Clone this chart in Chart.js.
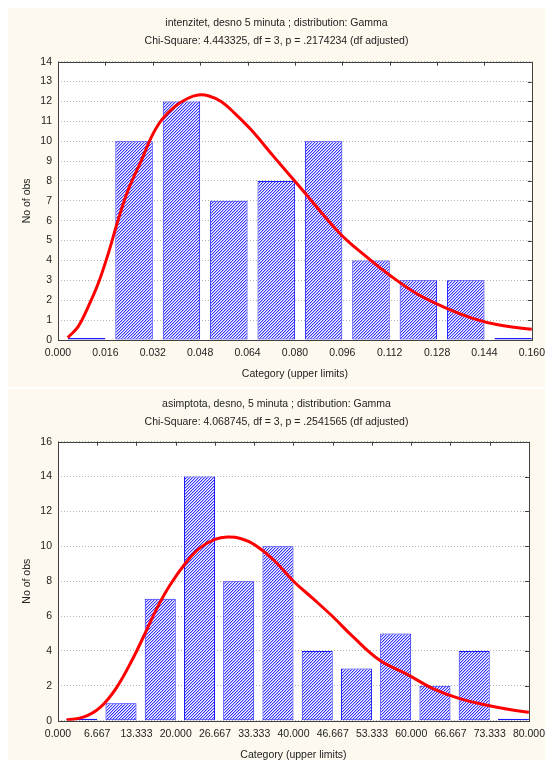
<!DOCTYPE html>
<html>
<head>
<meta charset="utf-8">
<script src="https://cdn.jsdelivr.net/npm/chart.js@4/dist/chart.umd.min.js"></script>
<style>
  body { margin: 0; background: #fff; width: 545px; height: 762px; position: relative; overflow: hidden; }
  .panel { position: absolute; left: 8px; width: 537px; background: #fdf9ee; }
  .panel canvas { display: block; }
  #p1 { top: 8px; height: 379px; }
  #p2 { top: 389px; height: 371px; }
</style>
</head>
<body>
<div class="panel" id="p1"><canvas id="c1" width="537" height="379"></canvas></div>
<div class="panel" id="p2"><canvas id="c2" width="537" height="371"></canvas></div>
<script>
// --- intenzitet (top) ---
const intTitle = [
  "intenzitet, desno 5 minuta ; distribution: Gamma",
  "Chi-Square: 4.443325, df = 3, p = .2174234 (df adjusted)"
];
const intLimits = [0.016, 0.032, 0.048, 0.064, 0.080, 0.096, 0.112, 0.128, 0.144, 0.160];
const intCounts = [0, 10, 12, 7, 8, 10, 4, 3, 3, 0];
const intCurveX = [0.0033, 0.0068, 0.0102, 0.0136, 0.0170, 0.0203, 0.0237, 0.0282, 0.0316, 0.0350,
  0.0394, 0.0439, 0.0473, 0.0507, 0.0552, 0.0597, 0.0653, 0.0730, 0.0816, 0.0951,
  0.1041, 0.1119, 0.1209, 0.1299, 0.1400, 0.1490, 0.1600];
const intCurveY = [0.12, 0.67, 1.67, 2.85, 4.36, 6.04, 7.55, 9.05, 10.23, 11.07,
  11.74, 12.16, 12.32, 12.29, 11.99, 11.40, 10.56, 9.2, 7.71, 5.37,
  4.19, 3.27, 2.35, 1.68, 1.09, 0.75, 0.54];

// --- asimptota (bottom) ---
const asTitle = [
  "asimptota, desno, 5 minuta ; distribution: Gamma",
  "Chi-Square: 4.068745, df = 3, p = .2541565 (df adjusted)"
];
const asLimits = [6.667, 13.333, 20.000, 26.667, 33.333, 40.000, 46.667, 53.333, 60.000, 66.667, 73.333, 80.000];
const asCounts = [0, 1, 7, 14, 8, 10, 4, 3, 5, 2, 4, 0];
const asCurveX = [1.47, 4.29, 7.12, 9.95, 12.77, 14.64, 16.73, 18.98, 21.81, 24.07,
  26.67, 28.8, 31.0, 33.33, 36.67, 40.0, 43.33, 46.7, 50.1, 54.6,
  59.1, 63.6, 68.1, 72.7, 77.2, 80.0];
const asCurveY = [0.04, 0.2, 0.75, 1.9, 3.6, 4.9, 6.4, 7.75, 9.1, 9.9,
  10.4, 10.53, 10.45, 10.1, 9.2, 8.0, 7.0, 5.96, 4.82, 3.48,
  2.7, 1.86, 1.28, 0.90, 0.61, 0.48];

const BAR_FRAC = 0.79;
const FRAME = "#404040";

Chart.defaults.font.family = '"Liberation Sans", Arial, sans-serif';
Chart.defaults.font.size = 10.5;
Chart.defaults.color = "#222";

// fine "////" hatch like the original
function hatch(canvas) {
  const c = document.createElement("canvas");
  c.width = c.height = 3;
  const g = c.getContext("2d");
  g.fillStyle = "#fff";
  g.fillRect(0, 0, 3, 3);
  for (let i = 0; i < 3; i++) {
    g.fillStyle = "#3030ff";
    g.fillRect(i, 2 - i, 1, 1);
    g.fillStyle = "#b4b4ff";
    g.fillRect((i + 1) % 3, 2 - i, 1, 1);
  }
  return canvas.getContext("2d").createPattern(c, "repeat");
}

// white plot area, frame and the small inward ticks on top / right
const framePlugin = {
  id: "frame",
  beforeDraw(chart) {
    const a = chart.chartArea, ctx = chart.ctx;
    ctx.save();
    ctx.fillStyle = "#fff";
    ctx.fillRect(a.left, a.top, a.right - a.left, a.bottom - a.top);
    ctx.restore();
  },
  beforeDatasetsDraw(chart) {
    const a = chart.chartArea, ctx = chart.ctx;
    ctx.save();
    ctx.strokeStyle = FRAME;
    ctx.lineWidth = 1;
    ctx.strokeRect(Math.round(a.left) + 0.5, Math.round(a.top) + 0.5,
      Math.round(a.right - a.left), Math.round(a.bottom - a.top));
    ctx.beginPath();
    chart.scales.x.ticks.forEach((t) => {
      const px = Math.round(chart.scales.x.getPixelForValue(t.value)) + 0.5;
      ctx.moveTo(px, a.top);
      ctx.lineTo(px, a.top + 4);
    });
    chart.scales.y.ticks.forEach((t) => {
      const py = Math.round(chart.scales.y.getPixelForValue(t.value)) + 0.5;
      ctx.moveTo(a.right, py);
      ctx.lineTo(a.right - 4, py);
    });
    ctx.stroke();
    ctx.restore();
  }
};

function renderHist(canvasId, o) {
  const canvas = document.getElementById(canvasId);
  const binw = o.limits[1] - o.limits[0];
  const edges = [0].concat(o.limits);
  const bars = o.limits.map((lim, i) => ({ x: lim - binw * BAR_FRAC / 2, y: o.counts[i] }));
  const curve = o.curveX.map((x, i) => ({ x: x, y: o.curveY[i] }));

  new Chart(canvas, {
    type: "bar",
    data: {
      datasets: [
        {
          type: "line",
          data: curve,
          borderColor: "#ff0000",
          borderWidth: 3,
          pointRadius: 0,
          tension: 0.4,
          fill: false
        },
        {
          type: "bar",
          data: bars,
          backgroundColor: hatch(canvas),
          borderColor: "#1a1aff",
          borderWidth: 1,
          borderSkipped: false,
          minBarLength: 2,
          barPercentage: BAR_FRAC,
          categoryPercentage: 1.0
        }
      ]
    },
    options: {
      responsive: false,
      animation: false,
      layout: { padding: { left: 0, right: 0, top: 0, bottom: 0 } },
      plugins: {
        legend: { display: false },
        tooltip: { enabled: false },
        title: {
          display: true,
          text: o.title,
          color: "#222",
          font: { size: 10.5, weight: "normal", lineHeight: 18 / 10.5 },
          padding: o.titlePad
        }
      },
      scales: {
        x: {
          type: "linear",
          min: 0,
          max: o.limits[o.limits.length - 1],
          offset: false,
          // tick marks are hidden (grid off); tickLength only spaces the labels
          grid: { display: false, drawTicks: true, tickLength: 7 },
          border: { display: false },
          afterBuildTicks: (s) => { s.ticks = edges.map((v) => ({ value: v })); },
          afterFit: (s) => { s.height = o.xAxisH; },
          ticks: {
            padding: 0,
            maxRotation: 0,
            autoSkip: false,
            callback: (v) => Number(v).toFixed(3)
          },
          title: {
            display: true,
            text: "Category (upper limits)",
            font: { size: 10.5, lineHeight: 1 },
            padding: { top: 0, bottom: o.xTitlePad }
          }
        },
        y: {
          min: 0,
          max: o.yMax,
          grid: {
            drawTicks: false,
            color: "#b4b4b4",
            lineWidth: 1
          },
          border: { display: false, dash: [1, 2] },
          afterFit: (s) => { s.width = 50; },
          ticks: { stepSize: o.yStep, padding: 6 },
          title: {
            display: true,
            text: "No of obs",
            font: { size: 10.5, lineHeight: 1 },
            padding: { top: 13.75, bottom: 0 }
          }
        }
      }
    },
    plugins: [framePlugin]
  });
}

renderHist("c1", {
  title: intTitle, limits: intLimits, counts: intCounts,
  curveX: intCurveX, curveY: intCurveY,
  yMax: 14, yStep: 1,
  titlePad: { top: 6.5, bottom: 11.2 },
  xAxisH: 47, xTitlePad: 7.75
});

renderHist("c2", {
  title: asTitle, limits: asLimits, counts: asCounts,
  curveX: asCurveX, curveY: asCurveY,
  yMax: 16, yStep: 2,
  titlePad: { top: 6, bottom: 10.7 },
  xAxisH: 39.3, xTitlePad: 0
});
</script>
</body>
</html>
